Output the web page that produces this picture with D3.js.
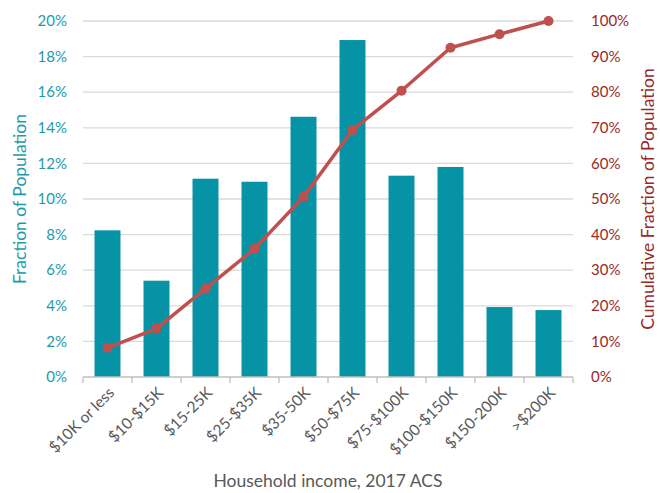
<!DOCTYPE html>
<html>
<head>
<meta charset="utf-8">
<script src="https://cdn.jsdelivr.net/npm/d3@7"></script>
<style>
  body { margin: 0; background: #fff; }
  svg { display: block; font-family: Lato, "Open Sans", sans-serif; }
</style>
</head>
<body>
<svg id="chart" width="660" height="493"></svg>
<script>
// Data
const categories = ['$10K or less', '$10-$15K', '$15-25K', '$25-$35K', '$35-50K',
  '$50-$75K', '$75-$100K', '$100-$150K', '$150-200K', '>$200K'];
const fraction = [0.0824, 0.0541, 0.1114, 0.1097, 0.1462, 0.1893, 0.1131, 0.118, 0.0393, 0.0376];
const cumulative = [0.082, 0.136, 0.248, 0.360, 0.506, 0.694, 0.804, 0.925, 0.963, 1.0];
const leftTicks = [0, 0.02, 0.04, 0.06, 0.08, 0.10, 0.12, 0.14, 0.16, 0.18, 0.20];
const rightTicks = [0, 0.1, 0.2, 0.3, 0.4, 0.5, 0.6, 0.7, 0.8, 0.9, 1.0];

const teal = '#0593a5', tealText = '#1e9aa9';
const red = '#c0504d', redText = '#9a2a26';
const grey = '#595959', gridCol = '#d9d9d9';

const svg = d3.select('#chart');
const m = { left: 83, right: 87, top: 21, bottom: 116 };
const W = 660, H = 493;

const x = d3.scaleBand().domain(categories).range([m.left, W - m.right]).paddingInner(0.47).paddingOuter(0.235);
const xEdge = d3.scaleBand().domain(categories).range([m.left, W - m.right]);
const yL = d3.scaleLinear().domain([0, 0.2]).range([H - m.bottom, m.top]);
const yR = d3.scaleLinear().domain([0, 1]).range([H - m.bottom, m.top]);

// gridlines
svg.append('g').selectAll('line').data(leftTicks.slice(1)).join('line')
  .attr('x1', m.left).attr('x2', W - m.right)
  .attr('y1', d => yL(d)).attr('y2', d => yL(d))
  .attr('stroke', gridCol).attr('stroke-width', 1.3);

// bars
svg.append('g').selectAll('rect').data(fraction).join('rect')
  .attr('x', (d, i) => x(categories[i]))
  .attr('width', x.bandwidth())
  .attr('y', d => yL(d))
  .attr('height', d => yL(0) - yL(d))
  .attr('fill', teal);

// x axis line + ticks at band edges
const base = yL(0);
svg.append('line').attr('x1', m.left).attr('x2', W - m.right)
  .attr('y1', base).attr('y2', base).attr('stroke', '#bfbfbf').attr('stroke-width', 1.3);
const edges = categories.map(c => xEdge(c)).concat([W - m.right]);
svg.append('g').selectAll('line').data(edges).join('line')
  .attr('x1', d => d).attr('x2', d => d).attr('y1', base).attr('y2', base + 6)
  .attr('stroke', '#bfbfbf').attr('stroke-width', 1.3);

// x labels
svg.append('g').selectAll('text').data(categories).join('text')
  .attr('transform', d => `translate(${x(d) + x.bandwidth() / 2 + 4},${base + 13}) rotate(-45)`)
  .attr('text-anchor', 'end').attr('dy', '0.35em')
  .attr('fill', grey).attr('font-size', 15.5)
  .text(d => d);

// left axis labels
svg.append('g').selectAll('text').data(leftTicks).join('text')
  .attr('x', 67).attr('y', d => yL(d)).attr('dy', '0.35em')
  .attr('text-anchor', 'end').attr('fill', tealText).attr('font-size', 15)
  .text(d => d3.format('.0%')(d));

// right axis labels
svg.append('g').selectAll('text').data(rightTicks).join('text')
  .attr('x', 591).attr('y', d => yR(d)).attr('dy', '0.35em')
  .attr('text-anchor', 'start').attr('fill', redText).attr('font-size', 15)
  .text(d => d3.format('.0%')(d));

// cumulative line
const line = d3.line().x((d, i) => x(categories[i]) + x.bandwidth() / 2).y(d => yR(d));
svg.append('path').datum(cumulative).attr('d', line)
  .attr('fill', 'none').attr('stroke', red).attr('stroke-width', 3.5).attr('stroke-linejoin', 'round');
svg.append('g').selectAll('circle').data(cumulative).join('circle')
  .attr('cx', (d, i) => x(categories[i]) + x.bandwidth() / 2).attr('cy', d => yR(d))
  .attr('r', 5).attr('fill', red);

// axis titles
svg.append('text').attr('transform', `translate(20,${(m.top + base) / 2}) rotate(-90)`)
  .attr('text-anchor', 'middle').attr('dy', '0.35em')
  .attr('fill', tealText).attr('font-size', 17.5).text('Fraction of Population');
svg.append('text').attr('transform', `translate(648,${(m.top + base) / 2}) rotate(-90)`)
  .attr('text-anchor', 'middle').attr('dy', '0.35em')
  .attr('fill', redText).attr('font-size', 17.5).text('Cumulative Fraction of Population');
svg.append('text').attr('x', (m.left + W - m.right) / 2).attr('y', 481).attr('dy', '0.35em')
  .attr('text-anchor', 'middle').attr('fill', grey).attr('font-size', 17.5)
  .text('Household income, 2017 ACS');
</script>
</body>
</html>
